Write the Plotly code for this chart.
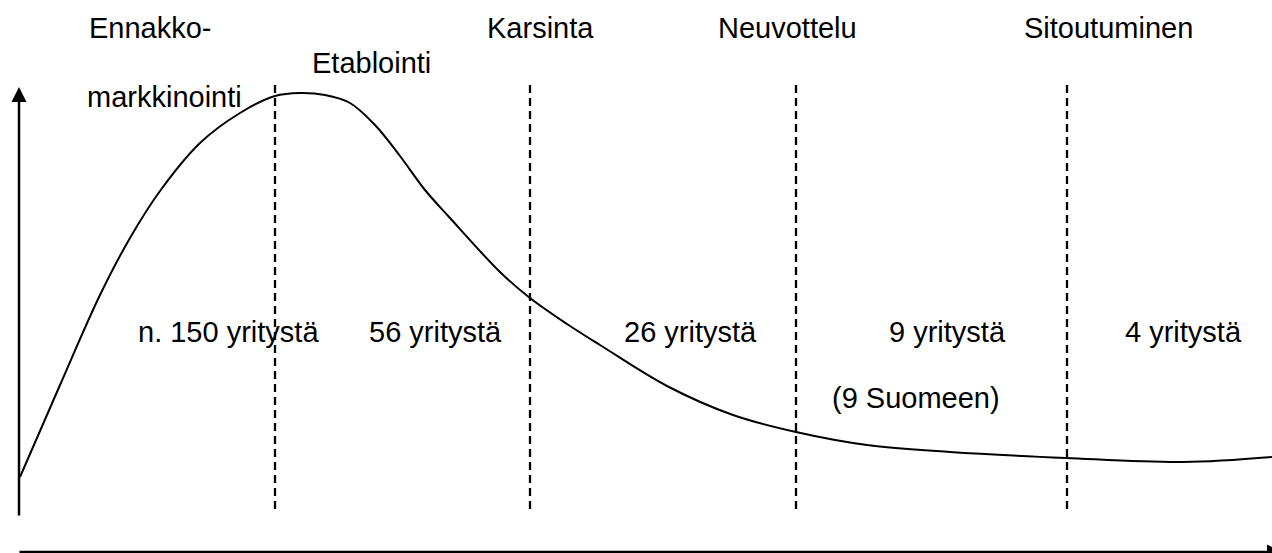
import plotly.graph_objects as go

# ---- data (chart units: x = horizontal position, y = depth from top) ----
curve_x = [20, 60, 100, 130, 160, 200, 240, 275, 300, 325, 350, 375, 400, 425, 450,
           500, 530, 567, 600, 667, 733, 796, 867, 950, 1066, 1183, 1272]
curve_y = [477, 385, 295, 238, 191, 143, 113, 96, 93, 95, 103, 125, 156, 190, 218,
           272, 298, 324, 345, 386, 415, 432, 445, 452, 458, 462, 457]

stage_boundaries = [275, 530, 796, 1067]

stage_labels = ["Ennakko-", "markkinointi", "Etablointi", "Karsinta", "Neuvottelu", "Sitoutuminen"]
stage_label_x = [87, 85, 310, 485, 716, 1022]
stage_label_y = [28, 97, 63, 28, 28, 28]

count_labels = ["n. 150 yritystä", "56 yritystä", "26 yritystä", "9 yritystä", "4 yritystä", "(9 Suomeen)"]
count_label_x = [136, 367, 622, 887, 1123, 830]
count_label_y = [332, 332, 332, 332, 332, 398]

X_RANGE = [0, 1272]
Y_RANGE = [553, 0]
FONT = dict(family="Liberation Sans, Arial, sans-serif", size=29, color="black")

fig = go.Figure()

# dashed stage boundaries
for bx in stage_boundaries:
    fig.add_trace(go.Scatter(x=[bx, bx], y=[85, 513], mode="lines",
                             line=dict(color="black", width=2.3, dash="8px,5px"),
                             hoverinfo="skip", showlegend=False))

# curve
fig.add_trace(go.Scatter(x=curve_x, y=curve_y, mode="lines",
                         line=dict(color="black", width=2, shape="spline", smoothing=1.0),
                         hoverinfo="skip", showlegend=False))

annotations = []
for t, x, y in zip(stage_labels + count_labels, stage_label_x + count_label_x,
                   stage_label_y + count_label_y):
    annotations.append(dict(x=x, y=y, xref="x", yref="y", text=t, showarrow=False,
                            xanchor="left", yanchor="middle", font=FONT))

# vertical axis arrow
annotations.append(dict(x=19, y=87, ax=19, ay=517, xref="x", yref="y", axref="x", ayref="y",
                        text="", showarrow=True, arrowhead=2, arrowsize=1.2, arrowwidth=2.5,
                        arrowcolor="black", standoff=0, startstandoff=0))
# horizontal axis arrow
annotations.append(dict(x=1282, y=552, ax=18, ay=552, xref="x", yref="y", axref="x", ayref="y",
                        text="", showarrow=True, arrowhead=2, arrowsize=1.2, arrowwidth=2.5,
                        arrowcolor="black", standoff=0, startstandoff=0))

fig.update_layout(
    width=1272, height=553,
    margin=dict(l=0, r=0, t=0, b=0),
    paper_bgcolor="white", plot_bgcolor="white",
    xaxis=dict(range=X_RANGE, visible=False, fixedrange=True),
    yaxis=dict(range=Y_RANGE, visible=False, fixedrange=True),
    annotations=annotations,
    showlegend=False,
)

fig.write_html("out.html", config={"displayModeBar": False},
               post_script="document.body.style.margin='0';document.body.style.overflow='hidden';")
